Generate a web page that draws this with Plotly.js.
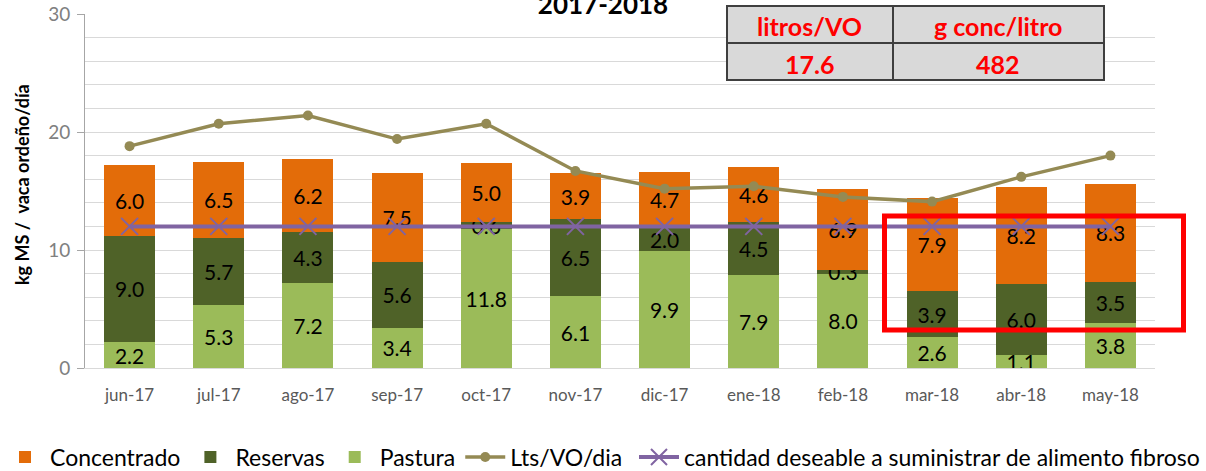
<!DOCTYPE html>
<html>
<head>
<meta charset="utf-8">
<script src="https://cdn.plot.ly/plotly-3.0.1.min.js"></script>
<style>
  html, body { margin: 0; padding: 0; background: #ffffff; }
  #chart { width: 1206px; height: 471px; }
</style>
</head>
<body>
<div id="chart"></div>
<script>
// ---- data ----
const months = ["jun-17", "jul-17", "ago-17", "sep-17", "oct-17", "nov-17", "dic-17", "ene-18", "feb-18", "mar-18", "abr-18", "may-18"];
const pastura = [2.2, 5.3, 7.2, 3.4, 11.8, 6.1, 9.9, 7.9, 8.0, 2.6, 1.1, 3.8];
const reservas = [9.0, 5.7, 4.3, 5.6, 0.6, 6.5, 2.0, 4.5, 0.3, 3.9, 6.0, 3.5];
const concentrado = [6.0, 6.5, 6.2, 7.5, 5.0, 3.9, 4.7, 4.6, 6.9, 7.9, 8.2, 8.3];
const litrosVO = [18.8, 20.7, 21.4, 19.4, 20.7, 16.7, 15.2, 15.4, 14.5, 14.1, 16.2, 18.0];
const deseable = [12, 12, 12, 12, 12, 12, 12, 12, 12, 12, 12, 12];
const tableHeaders = ["litros/VO", "g conc/litro"];
const tableValues = ["17.6", "482"];
const chartTitle = "2017-2018";
const yTitle = "kg MS /&nbsp;&nbsp;vaca ordeño/día";

// ---- layout helpers (pixel -> paper) ----
const W = 1206, H = 471;
const M = { l: 85, r: 51, t: 14, b: 103, pad: 0 };
const PW = W - M.l - M.r, PH = H - M.t - M.b;
const px = x => (x - M.l) / PW;
const py = y => (H - M.b - y) / PH;

const FONT = "Lato, 'Open Sans', sans-serif";
const barText = {
  textposition: "inside",
  insidetextanchor: "middle",
  textangle: 0,
  constraintext: "none",
  texttemplate: "%{y:.1f}",
  insidetextfont: { family: FONT, size: 21, color: "#000000" },
  hoverinfo: "x+y"
};

const traces = [
  Object.assign({ type: "bar", name: "Pastura", x: months, y: pastura, legendrank: 3, legend: "legend",
    marker: { color: "#9bbb59" } }, barText),
  Object.assign({ type: "bar", name: "Reservas", x: months, y: reservas, legendrank: 2, legend: "legend",
    marker: { color: "#4f6228" } }, barText),
  Object.assign({ type: "bar", name: "Concentrado", x: months, y: concentrado, legendrank: 1, legend: "legend",
    marker: { color: "#e36c09" } }, barText),
  { type: "scatter", mode: "lines+markers", name: "Lts/VO/dia", x: months, y: litrosVO, legendrank: 4, legend: "legend",
    line: { color: "#948a54", width: 3.5 }, marker: { color: "#948a54", size: 10, symbol: "circle" } },
  { type: "scatter", mode: "lines+markers", name: "cantidad deseable a suministrar de alimento fibroso", x: months, y: deseable, legendrank: 5, legend: "legend2",
    line: { color: "#8064a2", width: 4 },
    marker: { symbol: "x-thin", size: 17, color: "#8064a2", line: { color: "#8064a2", width: 2 } } }
];

// table shapes
const tx0 = px(727), tx1 = px(1104), txm = px(893);
const ty0 = py(6), ty1 = py(80), tym = py(43);
const shapes = [
  { type: "rect", xref: "paper", yref: "paper", x0: tx0, x1: tx1, y0: ty1, y1: ty0,
    fillcolor: "#d9d9d9", line: { color: "#3f3f3f", width: 2 }, layer: "above" },
  { type: "line", xref: "paper", yref: "paper", x0: txm, x1: txm, y0: ty1, y1: ty0,
    line: { color: "#3f3f3f", width: 2 }, layer: "above" },
  { type: "line", xref: "paper", yref: "paper", x0: tx0, x1: tx1, y0: tym, y1: tym,
    line: { color: "#3f3f3f", width: 2 }, layer: "above" },
  { type: "rect", xref: "paper", yref: "paper", x0: px(884.5), x1: px(1183.5), y0: py(330), y1: py(216),
    fillcolor: "rgba(0,0,0,0)", line: { color: "#ff0000", width: 5 }, layer: "above" }
];

const cellFont = { family: FONT, size: 25, color: "#ff0000" };
const cellAnn = (x, y, t) => ({ xref: "paper", yref: "paper", x: x, y: y, xanchor: "center", yanchor: "middle",
  text: "<b>" + t + "</b>", showarrow: false, font: cellFont });
const annotations = [
  cellAnn((tx0 + txm) / 2, py(26.5), tableHeaders[0]),
  cellAnn((txm + tx1) / 2, py(26.5), tableHeaders[1]),
  cellAnn((tx0 + txm) / 2, py(64), tableValues[0]),
  cellAnn((txm + tx1) / 2, py(64), tableValues[1]),
  { xref: "paper", yref: "paper", x: px(22), y: py(185), xanchor: "center", yanchor: "middle",
    text: "<b>" + yTitle + "</b>", textangle: -90, showarrow: false,
    font: { family: FONT, size: 18, color: "#000000" } }
];

const legendCommon = {
  orientation: "h", xref: "container", xanchor: "left",
  yref: "container", y: (H - 457) / H, yanchor: "middle",
  itemwidth: 40, traceorder: "normal", bgcolor: "rgba(0,0,0,0)",
  font: { family: FONT, size: 23, color: "#000000" }
};

const layout = {
  width: W, height: H,
  margin: M,
  paper_bgcolor: "#ffffff",
  plot_bgcolor: "#ffffff",
  font: { family: FONT, color: "#595959" },
  title: { text: "<b>" + chartTitle + "</b>", x: 0.5, xref: "container", xanchor: "center",
    y: 1 - 14 / H, yref: "container", yanchor: "bottom",
    font: { family: FONT, size: 26, color: "#000000" } },
  barmode: "stack",
  bargap: 0.428,
  xaxis: {
    type: "category",
    range: [-0.5, months.length - 0.5],
    autorange: false,
    showgrid: false,
    showline: true, linecolor: "#d9d9d9", linewidth: 1,
    ticks: "", ticklabelstandoff: 12,
    tickfont: { family: FONT, size: 17, color: "#595959" }
  },
  yaxis: {
    range: [0, 30], autorange: false, dtick: 10, tick0: 0,
    showgrid: true, gridcolor: "#d9d9d9", gridwidth: 1,
    minor: { dtick: 2, showgrid: true, gridcolor: "#d9d9d9", gridwidth: 1, ticks: "" },
    showline: true, linecolor: "#a6a6a6", linewidth: 1,
    ticks: "outside", ticklen: 7, tickcolor: "#a6a6a6",
    ticklabelstandoff: 3,
    zeroline: false,
    tickfont: { family: FONT, size: 19, color: "#808080" }
  },
  legend: Object.assign({}, legendCommon, { x: 0 }),
  legend2: Object.assign({}, legendCommon, { x: 634 / W }),
  shapes: shapes,
  annotations: annotations,
  showlegend: true
};

Plotly.newPlot("chart", traces, layout, { displayModeBar: false, staticPlot: true });
</script>
</body>
</html>
